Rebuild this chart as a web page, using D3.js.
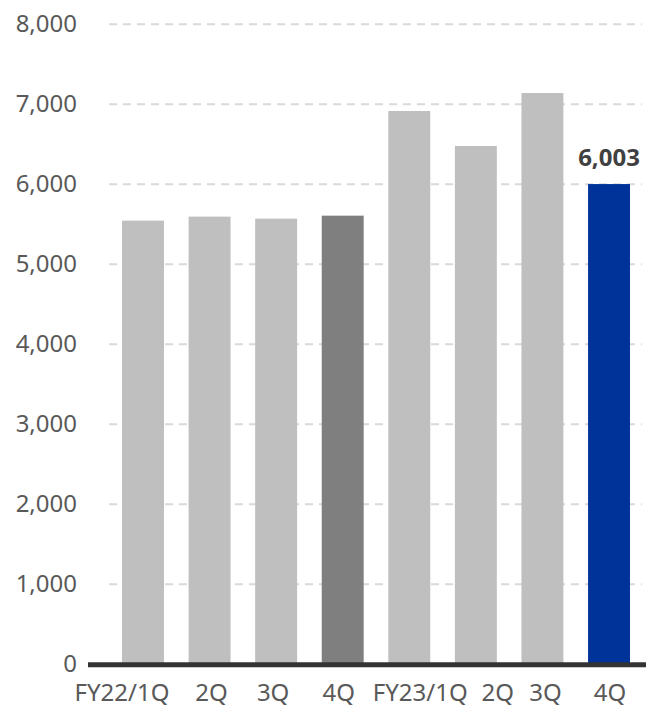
<!DOCTYPE html>
<meta charset="utf-8">
<style>
    body {
        margin: 0;
        background-color: #fff;
    }
    .axis text {
        font-family: "Noto Sans", sans-serif;
        font-size: 24px;
        fill: #595959;
    }
    .grid line {
        stroke: #D9D9D9;
        stroke-width: 2px;
        stroke-dasharray: 8,6;
    }
    .zero {
        stroke: #333333;
        stroke-width: 5px;
    }
    .label {
        font-family: "Noto Sans", sans-serif;
        font-size: 24px;
        font-weight: bold;
        fill: #404040;
        text-anchor: middle;
    }
</style>
<body>
<svg width="646" height="709"></svg>
<script src="https://d3js.org/d3.v7.min.js"></script>
<script>
    // quarters (labels repeat, so bars are keyed by index)
    var categories = ["FY22/1Q", "2Q", "3Q", "4Q", "FY23/1Q", "2Q", "3Q", "4Q"];
    var values = [5546, 5596, 5571, 5608, 6916, 6479, 7141, 6003];
    var barColors = ["#BFBFBF", "#BFBFBF", "#BFBFBF", "#7F7F7F", "#BFBFBF", "#BFBFBF", "#BFBFBF", "#003399"];
    var yTicks = [0, 1000, 2000, 3000, 4000, 5000, 6000, 7000, 8000];
    var highlight = 7; // bar with value label

    // label nudges so the crowded category labels don't collide
    var labelShift = [-21, 2, -3, -4, 11, 22, 3, 1];

    var svg = d3.select("svg");

    var x = d3.scaleBand()
        .domain(d3.range(categories.length))
        .range([109.7, 642.3])
        .paddingInner(0.37)
        .paddingOuter(0.185);

    var y = d3.scaleLinear()
        .domain([0, 8000])
        .range([664.3, 24.3]);

    // dashed gridlines
    svg.append("g")
        .attr("class", "grid")
        .selectAll("line")
        .data(yTicks.filter(function(d) { return d > 0; }))
        .enter().append("line")
        .attr("x1", 109)
        .attr("x2", 642)
        .attr("y1", function(d) { return y(d); })
        .attr("y2", function(d) { return y(d); });

    // y labels
    var yAxis = svg.append("g")
        .attr("class", "axis")
        .attr("transform", "translate(88,0)")
        .call(d3.axisLeft(y).tickValues(yTicks).tickFormat(d3.format(",")).tickSize(0).tickPadding(11));
    yAxis.select(".domain").remove();

    // bars
    svg.selectAll(".bar")
        .data(values)
        .enter().append("rect")
        .attr("class", "bar")
        .attr("x", function(d, i) { return x(i); })
        .attr("width", x.bandwidth())
        .attr("y", function(d) { return y(d); })
        .attr("height", function(d) { return y(0) - y(d); })
        .style("fill", function(d, i) { return barColors[i]; });

    // zero line
    svg.append("line")
        .attr("class", "zero")
        .attr("x1", 88)
        .attr("x2", 646)
        .attr("y1", y(0) + 0.5)
        .attr("y2", y(0) + 0.5);

    // category labels
    svg.append("g")
        .attr("class", "axis")
        .selectAll("text")
        .data(categories)
        .enter().append("text")
        .attr("x", function(d, i) { return x(i) + x.bandwidth() / 2 + labelShift[i]; })
        .attr("y", 701)
        .attr("text-anchor", "middle")
        .text(function(d) { return d; });

    // value label on latest quarter
    svg.append("text")
        .attr("class", "label")
        .attr("x", x(highlight) + x.bandwidth() / 2)
        .attr("y", y(values[highlight]) - 18)
        .text(d3.format(",")(values[highlight]));
</script>
